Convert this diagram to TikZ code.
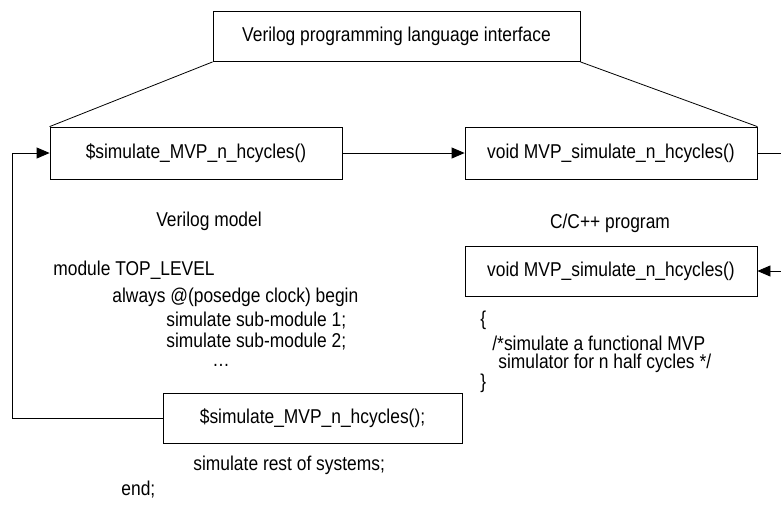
\documentclass[tikz,border=0pt]{standalone}
\usepackage{fontspec}
\setmainfont{Liberation Sans}[FakeStretch=0.87]
\usetikzlibrary{arrows.meta,positioning}

\begin{document}
\begin{tikzpicture}[x=1pt,y=-1pt,->,>={Triangle[length=13pt,width=11pt]},line width=0.8pt,
    font=\fontsize{20}{22}\selectfont]
    \tikzset{fbox/.style={draw,rectangle,inner sep=0pt,minimum height=50pt},
      txt/.style={anchor=west,inner sep=0pt}}
    \useasboundingbox (0,0) rectangle (781,504);
    \node[fbox,minimum width=367pt]                      (pli)   at (396.5,36.5) {Verilog programming language interface};
    \node[fbox,minimum width=292pt,minimum height=52pt]  (vcall) at (196,153)    {\$simulate\_MVP\_n\_hcycles()};
    \node[fbox,minimum width=292pt,minimum height=52pt]  (cdef)  at (611,153)    {void MVP\_simulate\_n\_hcycles()};
    \node[fbox,minimum width=292pt]                      (cfun)  at (611,271)    {void MVP\_simulate\_n\_hcycles()};
    \node[fbox,minimum width=299pt]                      (vtask) at (312.5,418)  {\$simulate\_MVP\_n\_hcycles();};
    \node (vlabel) at (209,221) {Verilog model};
    \node (clabel) at (610,223) {C/C++ program};
    % Verilog source text
    \node[txt] (mod)  at (53,270)  {module TOP\_LEVEL};
    \node[txt] (alw)  at (112,297) {always @(posedge clock) begin};
    \node[txt] (sub1) at (166,321) {simulate sub-module 1;};
    \node[txt] (sub2) at (166,342) {simulate sub-module 2;};
    \node[txt] (dots) at (212,365) {\dots};
    \node[txt] (rest) at (193,465) {simulate rest of systems;};
    \node[txt] (endm) at (121,490) {end;};
    % C source text
    \node[txt] (lbr) at (480,320) {\{};
    \node[txt] (cm1) at (492,343) {/*simulate a functional MVP};
    \node[txt] (cm2) at (498,363) {simulator for n half cycles */};
    \node[txt] (rbr) at (480,383) {\}};
    % connectors
    \coordinate (rout) at (781,153);
    \coordinate (rin)  at (781,271);
    \coordinate (loop) at (12,153);
    \draw[-] (pli.south west) -- (vcall.north west);
    \draw[-] (pli.south east) -- (cdef.north east);
    \draw (vcall) -- (cdef);
    \draw[-] (cdef.east) -- (rout);
    \draw (rin) -- (cfun.east);
    \draw (vtask.west) -- (vtask.west -| loop) |- (vcall.west);
\end{tikzpicture}
\end{document}
